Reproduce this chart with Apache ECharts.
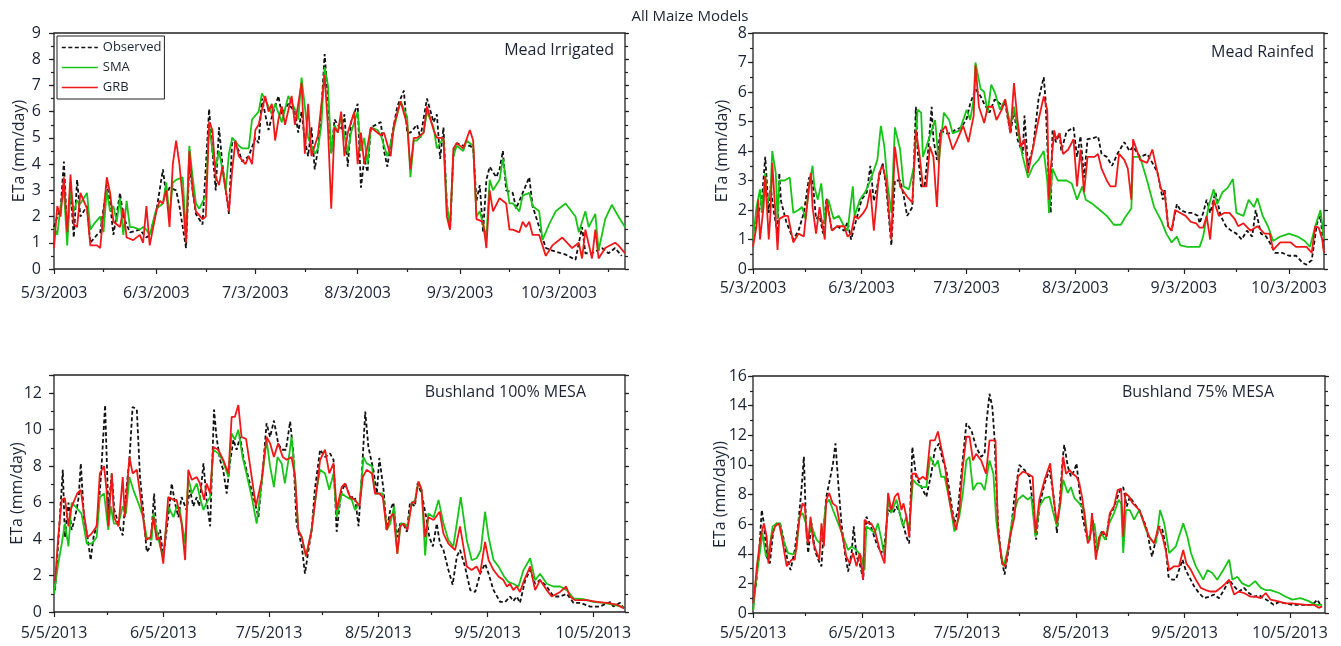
<!DOCTYPE html>
<html>
<head>
<meta charset="utf-8">
<script src="https://cdn.jsdelivr.net/npm/echarts@6/dist/echarts.min.js"></script>
<style>
  html, body { margin: 0; padding: 0; background: #ffffff; }
  #chart { width: 1341px; height: 646px; }
</style>
</head>
<body>
<div id="chart"></div>
<script>
// ---- Tick labels (first label is day 0 of each season) ----
const ticks2003 = ['5/3/2003', '6/3/2003', '7/3/2003', '8/3/2003', '9/3/2003', '10/3/2003'];
const ticks2013 = ['5/5/2013', '6/5/2013', '7/5/2013', '8/5/2013', '9/5/2013', '10/5/2013'];
const seriesNames = ['Observed', 'SMA', 'GRB'];

// ---- Daily ETa (mm/day) as [days since season start, value] ----
// Mead Irrigated 2003
const meadIrrObserved = [[0,1.6],[1,2.0],[2,2.3],[3,4.1],[4,1.3],[5,3.0],[6,1.2],[7,3.4],[8,2.0],[10,2.4],[11,1.0],[13,1.3],[14,1.4],[16,3.2],[17,2.5],[18,1.3],[20,2.9],[21,2.0],[23,1.4],[26,1.5],[28,1.2],[29,1.3],[31,2.2],[33,3.8],[34,2.8],[35,3.1],[37,3.0],[38,2.4],[40,0.8],[41,4.0],[42,3.0],[43,2.1],[45,1.7],[47,6.1],[48,4.5],[49,3.0],[50,5.4],[51,4.0],[53,2.1],[54,5.0],[56,4.5],[57,4.1],[59,4.3],[61,5.0],[62,4.8],[63,6.5],[65,5.3],[66,5.8],[68,6.6],[69,5.9],[71,6.3],[73,6.0],[74,5.2],[75,6.0],[76,4.9],[77,4.3],[78,5.4],[79,3.8],[80,4.6],[81,6.0],[82,8.2],[83,6.5],[84,4.4],[85,5.7],[87,5.3],[88,5.9],[89,3.9],[90,5.6],[92,6.3],[93,3.1],[94,4.2],[95,3.7],[96,5.4],[99,5.6],[100,4.5],[101,3.9],[102,4.8],[104,6.2],[106,6.8],[107,5.2],[108,5.2],[110,5.5],[111,5.0],[113,6.5],[115,5.6],[116,5.9],[117,4.2],[118,5.4],[119,2.5],[120,1.5],[121,4.3],[122,4.8],[124,4.7],[126,4.7],[127,4.6],[128,2.6],[129,3.2],[130,1.4],[131,3.4],[132,3.9],[134,3.5],[135,3.8],[136,4.5],[137,3.0],[139,2.9],[140,2.3],[142,2.9],[144,3.5],[145,2.4],[147,1.6],[149,0.8],[151,0.7],[155,0.55],[158,0.35],[160,1.6],[161,0.6],[163,0.6],[166,0.8],[168,0.6],[170,0.8],[172,0.5]];
const meadIrrSMA = [[0,1.6],[1,1.3],[2,2.4],[3,3.0],[4,0.9],[5,3.1],[6,2.2],[7,2.6],[8,2.5],[10,2.9],[11,1.5],[12,1.7],[14,2.0],[15,1.4],[16,3.0],[17,2.2],[18,2.4],[19,1.8],[20,2.7],[21,1.3],[22,2.6],[23,1.6],[24,1.6],[26,1.5],[27,1.6],[28,1.5],[29,1.3],[31,2.3],[33,2.5],[34,3.3],[35,2.0],[36,3.3],[37,3.4],[39,3.5],[40,1.3],[41,4.7],[42,3.5],[43,2.5],[44,2.3],[46,2.8],[47,5.5],[48,4.5],[49,3.9],[50,4.5],[51,3.8],[52,3.0],[53,4.4],[54,5.0],[56,4.7],[57,4.6],[59,4.6],[60,5.7],[62,6.0],[63,6.7],[65,6.2],[66,5.9],[67,6.3],[69,5.6],[71,6.6],[73,6.1],[74,5.7],[75,7.3],[76,6.2],[77,5.0],[79,4.4],[80,4.6],[81,5.5],[82,7.7],[83,7.0],[84,4.4],[85,5.5],[86,5.2],[87,5.8],[89,4.4],[90,5.2],[92,6.0],[93,4.5],[94,5.0],[95,4.0],[96,5.4],[98,5.3],[99,5.1],[101,4.3],[102,4.8],[104,5.9],[105,6.4],[107,5.8],[108,3.5],[109,4.9],[110,4.9],[112,5.2],[113,6.0],[115,5.4],[116,4.6],[118,5.0],[119,2.5],[120,1.6],[121,4.3],[122,4.7],[124,4.5],[125,4.9],[127,4.7],[128,2.0],[129,2.2],[131,1.2],[132,3.4],[133,3.0],[135,3.4],[136,4.2],[138,2.5],[139,2.5],[141,2.2],[142,2.8],[144,2.9],[145,2.4],[147,2.2],[148,1.1],[150,1.7],[152,2.2],[155,2.5],[158,2.0],[159,1.4],[161,2.2],[162,1.6],[164,2.1],[165,0.7],[167,1.9],[169,2.45],[171,2.0],[173,1.6]];
const meadIrrGRB = [[0,0.8],[1,2.4],[2,2.0],[3,3.5],[4,1.4],[5,3.6],[6,1.7],[7,1.6],[8,2.9],[10,2.3],[11,0.9],[13,0.9],[14,0.8],[16,3.5],[17,2.9],[18,1.8],[20,1.6],[21,2.3],[22,1.2],[24,1.1],[26,1.3],[27,1.0],[28,2.4],[29,0.9],[31,2.2],[32,2.6],[33,2.5],[34,3.0],[35,1.6],[36,4.0],[37,4.9],[38,4.0],[39,2.7],[40,1.0],[41,4.5],[42,3.0],[43,2.2],[45,1.9],[46,2.0],[47,5.6],[48,5.3],[49,3.5],[50,3.2],[51,3.9],[53,2.2],[54,3.8],[55,4.9],[56,4.3],[58,4.0],[59,4.3],[60,4.0],[61,5.3],[62,5.5],[64,6.6],[65,6.0],[66,6.3],[67,4.9],[68,5.7],[69,6.2],[70,5.5],[72,6.6],[73,5.5],[75,7.1],[76,4.4],[77,6.3],[78,4.3],[80,5.1],[82,7.4],[83,5.4],[84,2.3],[85,5.4],[86,5.2],[87,6.0],[88,4.3],[89,5.2],[91,6.0],[92,4.0],[93,5.2],[94,4.0],[96,5.4],[97,5.3],[99,5.1],[100,5.2],[102,4.3],[103,5.5],[105,6.4],[107,5.5],[108,3.8],[109,5.0],[110,5.0],[112,5.2],[113,6.2],[115,5.3],[116,5.0],[118,5.0],[119,2.0],[120,1.5],[121,4.6],[122,4.8],[124,4.6],[126,5.3],[127,4.9],[128,1.9],[130,1.8],[131,0.8],[132,3.0],[133,2.2],[135,2.7],[137,2.5],[138,1.5],[139,1.5],[141,1.4],[142,1.8],[143,1.6],[144,1.8],[145,1.3],[147,1.3],[149,0.5],[151,0.9],[154,1.2],[157,0.8],[159,1.0],[160,0.4],[161,1.5],[163,0.4],[164,1.5],[165,0.4],[167,0.8],[170,1.0],[171,0.9],[173,0.6]];

// Mead Rainfed 2003
const meadRainObserved = [[0.5,1.3],[1.5,1.9],[2.5,2.3],[3.5,3.8],[4.5,1.9],[5,2.8],[6,1.9],[7,1.2],[7.5,3.25],[8,2.3],[9.5,1.6],[11.5,1.0],[13,1.3],[14.5,1.9],[16,3.1],[17,3.0],[18,1.7],[19,1.8],[20,1.2],[21,2.4],[22.5,1.3],[24,1.45],[26,1.3],[27,1.6],[28,1.0],[29,1.45],[30,1.9],[31,2.35],[32.5,2.6],[33.5,3.5],[34.5,2.3],[36,3.1],[37,3.6],[38,2.8],[39.5,0.8],[40.5,3.0],[42,3.0],[43,2.5],[44,1.8],[45.5,2.1],[46.5,5.5],[47,4.0],[48,2.8],[49,2.8],[50,4.0],[51,5.5],[51.5,4.4],[52.5,3.7],[53.5,4.7],[55,4.6],[56.5,4.6],[57.5,4.7],[59.5,4.8],[61,5.1],[62,5.6],[63.5,6.1],[65,5.85],[66,5.6],[67.5,5.3],[69,5.75],[70.5,5.6],[72,5.6],[73.5,4.6],[74.5,5.4],[75.5,4.4],[77,3.9],[77.5,5.2],[78.5,3.5],[80,4.15],[81.5,5.75],[83,6.5],[83.5,5.75],[84.5,2.8],[85,1.9],[85.5,4.7],[86.5,4.3],[87.5,4.6],[88,4.0],[89.5,4.65],[91.5,4.8],[92.5,3.8],[93.5,4.5],[94.5,3.1],[95.5,4.4],[97.5,4.45],[98.5,4.5],[99.5,3.9],[101,3.8],[102.5,3.5],[104,3.9],[106,4.3],[107.5,4.0],[108.5,4.15],[110.5,3.8],[112.5,3.9],[114.5,3.5],[115.5,3.25],[117,2.35],[117.5,2.7],[118.5,1.45],[119.5,1.3],[121,2.2],[122,2.0],[124,1.9],[125.5,1.9],[127,1.8],[127.5,1.55],[128.5,1.9],[129.5,2.35],[130.5,1.9],[132,2.6],[133.5,1.8],[135,1.45],[136.5,1.3],[138,1.2],[139.5,1.0],[141,1.3],[142.5,1.1],[143.5,2.0],[145,1.2],[146.5,1.1],[147.5,0.9],[149,0.55],[151,0.55],[153,0.45],[155,0.45],[157,0.2],[158,0.15],[159.5,0.3],[161,1.55],[162,1.8],[163,0.55]];
const meadRainSMA = [[0,1.0],[1,2.1],[2,2.7],[2.5,1.9],[3.5,3.25],[4,2.2],[5,2.6],[5.5,4.0],[6.5,3.25],[7,1.7],[7.5,3.0],[9,3.0],[10.5,3.1],[11.5,1.9],[13,2.0],[14,2.1],[15,1.7],[16,2.8],[17,3.5],[17.5,2.8],[18.5,2.35],[19.5,2.9],[20.5,1.55],[21.5,2.35],[23,1.7],[24.5,1.8],[26,1.45],[27,1.3],[28.5,2.8],[29,1.8],[30.5,2.35],[32,2.6],[33.5,3.0],[35.5,3.7],[36.5,4.85],[37.5,4.15],[38.5,2.8],[39.5,1.9],[40.5,4.8],[42,4.05],[43,2.8],[44.5,2.7],[46,3.5],[47,5.4],[48,5.3],[48.5,3.8],[49.5,4.15],[51,4.7],[52,5.05],[53,3.6],[54.5,5.3],[56,5.05],[57,4.6],[59,4.7],[61,5.4],[62,5.05],[63,5.75],[63.5,7.0],[65,6.1],[66,6.0],[67,5.3],[68,6.25],[69,6.0],[70.5,5.4],[72,5.75],[73.5,4.85],[74.5,5.5],[76,4.4],[77,3.8],[77.5,3.8],[78.5,3.1],[80,3.5],[81.5,3.7],[83,4.0],[84,3.0],[84.5,1.9],[85.5,3.4],[87,3.0],[88,3.0],[89.5,3.0],[91,2.9],[92.5,2.35],[94,2.8],[95,2.35],[97,2.2],[98.5,2.05],[101,1.8],[103,1.5],[105,1.5],[106.5,1.8],[108,2.05],[108.5,3.8],[110.5,3.8],[112.5,3.0],[114.5,2.1],[116.5,1.65],[118,1.2],[119.5,0.9],[121,1.1],[122,0.8],[124,0.75],[125.5,0.75],[127.5,0.75],[128.5,1.1],[130,2.1],[131.5,2.7],[132.5,2.2],[134,2.6],[135.5,2.75],[137,3.05],[138,1.9],[140,1.8],[141.5,2.35],[143,2.1],[144,2.4],[145.5,1.8],[147,1.45],[148.5,0.95],[150.5,1.1],[153,1.2],[155.5,1.1],[157.5,0.95],[159,0.75],[160.5,1.45],[162,2.0],[162.5,2.0],[163,1.0]];
const meadRainGRB = [[0,0.75],[1,1.45],[1.5,2.35],[2,1.0],[3,2.1],[3.5,3.15],[4.5,1.0],[5,1.9],[5.5,3.6],[6.5,1.7],[7,0.65],[7.5,1.7],[9,1.8],[10,1.8],[11.5,0.9],[13,1.2],[14.5,1.1],[16,2.8],[16.5,3.25],[17,2.1],[18,1.2],[19,2.1],[20.5,1.0],[21,2.35],[22.5,1.3],[24,1.45],[26,1.45],[27,1.1],[28,1.2],[29,1.8],[30,1.7],[31.5,1.9],[32.5,2.1],[33.5,2.7],[34.5,1.3],[36,3.25],[37,3.5],[38,3.0],[39.5,1.0],[40.5,4.15],[42,2.8],[44,2.45],[45.5,2.25],[46.5,4.7],[47.5,3.9],[48.5,2.8],[49.5,2.8],[50.5,4.15],[51.5,3.8],[52.5,2.1],[53.5,4.6],[55,4.85],[57,4.05],[58,4.3],[60,4.85],[61.5,4.3],[63,5.2],[63.5,6.9],[64.5,5.5],[66,4.95],[67,5.5],[68.5,5.5],[69.5,5.05],[71,5.4],[72,5.75],[73.5,4.6],[74.5,6.3],[75.5,5.05],[76.5,4.15],[77.5,4.4],[78.5,3.25],[80,4.15],[81.5,5.05],[83,5.85],[84,5.4],[84.5,2.35],[85,3.4],[86,4.7],[86.5,4.4],[87.5,4.6],[88.5,3.9],[90,4.05],[91.5,4.4],[92.5,2.8],[93.5,4.05],[94.5,2.6],[95.5,3.8],[97.5,3.8],[98.5,3.9],[99.5,3.4],[101,3.0],[102,2.8],[103.5,2.8],[104.5,3.9],[106,3.7],[107,3.4],[108,2.35],[108.5,4.4],[110.5,3.7],[112.5,3.6],[114,4.05],[115.5,3.25],[116.5,2.7],[117.5,2.6],[118.5,1.45],[119.5,1.3],[120.5,2.0],[122,1.9],[123.5,1.8],[125,1.6],[126.5,1.55],[127.5,1.4],[128.5,1.4],[129.5,1.8],[130.5,1.0],[131.5,2.35],[133,1.8],[134.5,1.9],[136,1.9],[137.5,1.7],[138.5,1.45],[140,1.55],[142,1.3],[144,1.45],[146,1.2],[147.5,1.2],[148.5,0.65],[150.5,0.9],[153.5,0.9],[155,0.75],[156.5,0.75],[158,0.75],[159.5,0.55],[160.5,1.45],[161.5,1.4],[162.5,1.0],[163,0.55]];

// Bushland 100% MESA 2013
const bush100Observed = [[0.3,1.2],[1.2,3.8],[2.5,7.8],[3.1,4.1],[4.1,6.0],[5,4.5],[5.7,5.0],[6.4,5.6],[7,6.3],[7.6,8.15],[8.5,5.2],[9.5,4.1],[10.4,2.85],[11.2,4.1],[12.3,4.85],[13.3,7.4],[14.5,11.35],[15.4,5.6],[16.4,7.6],[17.1,5.6],[18.3,4.85],[19.5,4.2],[20.4,6.5],[21.4,8.35],[22.3,11.25],[23.5,11.1],[24.4,7.4],[25.3,5.6],[26.3,3.3],[27.4,3.6],[28.4,6.5],[29.1,4.1],[30.1,4.5],[31,3.0],[32.4,5.2],[33.4,7.05],[34.3,6.0],[35.3,5.2],[36.2,6.3],[37.6,5.6],[38.6,6.7],[39.5,5.8],[40.5,6.3],[41.2,5.8],[42.4,8.15],[43.3,6.15],[44.3,4.7],[45.4,11.1],[46.1,9.6],[47.1,8.35],[48,7.8],[49,6.5],[49.9,8.15],[50.9,9.45],[51.8,8.9],[52.8,9.6],[53.7,8.5],[55.1,7.4],[56.6,6.3],[58,5.2],[59.4,8.15],[60.3,10.35],[61.3,9.6],[62.4,10.5],[63.6,9.25],[64.6,8.9],[65.8,8.9],[67,10.45],[67.9,8.7],[68.8,4.85],[70.3,3.6],[71.2,2.1],[72.2,3.4],[73.1,4.5],[74,6.7],[75.5,8.9],[76.9,8.5],[78.3,8.7],[79.3,8.35],[80.2,4.4],[81.4,6.5],[82.6,7.05],[84,6.3],[85.4,6.3],[86.4,4.7],[87.3,7.4],[88.3,11.0],[89.2,9.05],[90.6,7.8],[91.6,6.5],[92.3,8.45],[93.5,6.7],[94.4,4.5],[95.4,5.6],[96.3,6.0],[97.3,4.1],[98.2,4.85],[99.1,4.85],[100.1,4.4],[101,6.0],[102.4,5.8],[103.1,7.05],[104.3,6.5],[105.6,5.2],[106.5,4.1],[107.5,3.6],[108.6,4.85],[109.5,3.75],[110.5,3.4],[111.9,2.3],[113.1,1.5],[114.3,3.05],[115.2,3.4],[116.6,2.5],[118.1,1.2],[119.5,1.1],[120.9,2.1],[122.3,2.65],[123.3,2.1],[124.7,1.2],[126.6,0.55],[128,0.55],[129.4,0.85],[130.3,0.6],[131.3,0.85],[132.2,0.5],[133.7,1.75],[135.1,2.3],[136.5,1.55],[137.9,1.75],[139.8,1.4],[141.7,0.85],[143.6,0.85],[145.5,1.0],[147.4,0.5],[149.3,0.5],[152.1,0.3],[154.9,0.3],[157.8,0.55],[158.7,0.3],[160.6,0.5],[161.7,0.2]];
const bush100SMA = [[0,1.0],[1.2,2.65],[2.2,3.75],[3.1,4.85],[4.1,3.6],[5,6.0],[6,5.8],[6.9,5.6],[7.8,5.4],[9.3,3.75],[10.7,3.75],[12.1,4.1],[13,6.3],[14.2,6.5],[15.4,4.5],[16.1,5.8],[17,4.85],[18.3,4.85],[19.5,5.8],[20.4,5.4],[21.4,7.4],[22.5,6.7],[23.9,6.0],[25.3,5.2],[26.3,4.1],[27.7,3.95],[28.2,5.4],[29.1,4.5],[30.1,3.6],[31,3.05],[32.4,5.8],[33.9,5.2],[34.8,5.8],[35.7,5.6],[37.2,3.75],[38.1,7.4],[39.1,6.5],[40.5,7.05],[41.4,6.3],[42.4,5.6],[43.3,6.0],[44.3,6.3],[45.2,8.9],[46.6,8.7],[47.8,8.35],[49.5,7.4],[50.4,9.8],[51.3,9.45],[52.3,10.0],[53.5,8.5],[54.6,7.6],[56.1,6.3],[57.5,4.85],[58.9,7.05],[60.3,9.45],[61.3,8.0],[62.4,6.85],[63.4,8.5],[64.6,8.15],[65.5,7.05],[66.8,8.7],[67.4,9.6],[68.4,7.4],[69.3,4.5],[70.3,4.1],[71.5,3.05],[73.1,4.5],[74.5,6.7],[75.5,7.8],[76.9,7.6],[78.1,6.7],[79.3,7.6],[80.2,5.2],[81.6,6.5],[83.1,6.3],[84.5,6.15],[85.4,5.6],[86.7,6.0],[87.8,8.5],[88.7,8.15],[90.2,8.0],[91.1,6.5],[92.3,6.5],[93.3,6.5],[94.4,4.5],[95.4,4.85],[96.5,5.8],[97.4,3.2],[98.4,4.85],[99.3,4.85],[100.3,4.7],[101.5,6.0],[102.4,6.1],[103.4,7.15],[104.3,6.7],[105.3,3.1],[106.2,5.4],[107.7,5.2],[109.1,6.15],[110.5,4.85],[111.9,3.95],[113.3,3.6],[115.4,6.3],[117.1,3.95],[118.5,2.85],[119.9,2.95],[121.1,3.4],[122.3,5.5],[123.3,4.1],[124.7,2.85],[126.1,2.5],[127.7,1.95],[128.9,1.65],[130.3,1.55],[131.8,1.4],[133.2,2.3],[135.1,2.95],[136.5,1.75],[137.9,2.1],[139.8,1.55],[141.7,1.4],[143.6,1.4],[145.5,1.2],[147.4,0.75],[150.2,0.7],[153,0.55],[155.9,0.5],[158.7,0.4],[161.7,0.25]];
const bush100GRB = [[0.3,1.7],[1.2,4.1],[2.2,6.15],[3.1,6.25],[4.1,4.7],[4.7,5.6],[5.5,6.0],[6.6,6.5],[7.6,6.7],[8.5,5.4],[9.5,4.1],[10.7,4.3],[12.1,4.7],[13,7.6],[14.2,8.0],[14.9,6.7],[15.4,4.7],[16.4,7.6],[17,5.2],[18.3,4.7],[19.5,7.4],[20.1,5.2],[21.4,8.5],[22.3,7.6],[23.5,7.8],[24.4,6.5],[26.1,3.95],[27.4,4.1],[28.2,5.2],[29.1,3.95],[29.9,4.1],[31,2.65],[32.4,6.3],[33.9,6.15],[34.8,6.15],[36.2,4.85],[37.2,2.85],[38.1,7.8],[39.1,7.25],[40.5,7.4],[41.4,7.05],[42.6,6.15],[43.3,7.05],[44.3,6.5],[45.2,9.05],[46.6,8.9],[48,8.35],[49.5,7.6],[50.4,10.7],[51.3,10.7],[52.3,11.35],[53.2,9.6],[54.5,9.5],[55.8,7.8],[57.3,5.8],[58.9,7.25],[60.3,9.6],[61.3,9.25],[62.4,8.5],[63.6,9.25],[64.9,8.5],[66,8.35],[67.4,8.5],[68.4,7.4],[69.3,4.5],[70.3,4.1],[71.5,3.05],[73.1,4.5],[74.5,6.7],[75.5,8.35],[76.9,8.9],[78.1,7.6],[79.3,8.15],[80.2,5.6],[81.6,6.85],[82.6,7.05],[84,6.3],[85.4,6.15],[86.7,5.8],[87.6,7.4],[88.7,7.8],[90.2,7.6],[91.1,6.5],[92.3,6.5],[93.3,6.3],[94.4,4.5],[95.4,5.2],[96.3,5.4],[97.4,3.2],[98.2,4.7],[99.1,4.85],[100.3,4.5],[101.5,6.0],[102.4,6.0],[103.4,7.15],[104.3,6.7],[105.3,4.1],[106.2,5.2],[107.7,5.05],[109.4,5.5],[110.5,4.3],[111.9,3.75],[113.8,3.4],[115.2,4.7],[117.1,2.5],[118.5,2.3],[119.9,2.5],[120.9,2.1],[122.3,3.85],[123.3,2.85],[124.7,2.3],[126.1,1.95],[127.5,1.75],[128.5,1.4],[129.4,1.55],[130.3,1.2],[131.3,1.4],[132.2,1.1],[133.4,1.75],[135.1,2.5],[136.5,1.2],[137.9,1.75],[139.8,1.2],[141.2,0.85],[143.6,1.1],[145.3,1.4],[146.4,0.85],[147.8,0.65],[151.2,0.65],[154,0.55],[156.8,0.5],[159.7,0.4],[161.7,0.2]];

// Bushland 75% MESA 2013
const bush75Observed = [[0.1,0.9],[0.9,2.0],[1.8,4.3],[2.5,6.95],[3.1,6.05],[3.9,3.8],[4.8,3.35],[5.8,5.6],[6.7,6.05],[7.7,6.05],[8.6,5.15],[9.8,3.6],[10.7,2.9],[11.9,4.25],[12.9,6.05],[13.8,8.3],[14.5,10.55],[15.1,6.05],[15.7,4.05],[16.7,6.05],[17.6,4.25],[18.6,3.6],[19.5,3.15],[20.2,5.85],[20.9,7.85],[21.9,9.0],[22.8,10.1],[23.5,11.45],[24.3,8.75],[25.2,6.05],[26.2,4.05],[27.1,2.8],[28.1,4.05],[28.7,5.85],[29.5,3.8],[30.4,3.35],[31.4,2.25],[32.3,6.5],[33.3,6.05],[34.2,5.4],[35.2,4.7],[36.6,4.05],[37.5,4.7],[38.5,6.95],[39.9,6.75],[40.9,7.2],[41.8,6.75],[42.7,6.05],[43.7,5.15],[44.5,4.7],[45.4,11.2],[46.5,9.2],[47.5,8.75],[48.4,8.3],[49.4,7.85],[50.8,9.4],[51.8,11.0],[53,11.45],[54.1,10.3],[55.1,9.65],[56.5,7.4],[57.4,6.05],[58.4,6.95],[59.3,9.2],[60.8,12.8],[62.2,12.35],[63.6,11.2],[65,10.55],[66,10.75],[66.6,13.0],[67.4,14.8],[68.2,13.9],[68.8,11.9],[69.8,6.05],[70.7,3.8],[71.7,2.6],[73.1,4.7],[74.5,7.85],[75.9,10.0],[77.4,9.65],[78.8,9.2],[79.7,7.4],[80.7,4.95],[81.6,7.2],[83.1,8.75],[84.5,9.65],[85.7,7.85],[86.6,5.4],[87.3,7.2],[88.3,10.55],[88.7,11.35],[89.7,9.9],[90.6,9.2],[91.6,9.65],[92.2,10.1],[93,8.3],[93.9,6.5],[95.1,5.15],[95.8,4.95],[96.8,6.3],[97.7,4.05],[98.7,5.15],[99.6,5.6],[100.6,4.95],[101.5,6.5],[102.5,6.95],[103.6,7.65],[104.6,8.3],[105.5,8.5],[106.5,7.2],[107.4,7.85],[108.6,7.4],[110.1,6.95],[112,5.85],[113.7,3.8],[114.8,4.95],[115.8,5.85],[116.7,5.6],[117.6,4.5],[118.4,2.45],[119.5,2.25],[120.5,2.25],[121.4,2.9],[122.4,3.6],[123.3,2.9],[124.3,2.45],[125.7,1.8],[127.1,1.35],[128.5,1.0],[130,1.1],[131.4,1.25],[132.8,1.0],[134.2,1.55],[135.7,2.25],[137.1,1.8],[138.5,1.45],[139.9,1.7],[141.3,1.35],[142.8,1.1],[144.2,1.2],[145.6,1.0],[147,0.8],[148.4,0.55],[149.9,0.75],[151.8,0.65],[153.7,0.55],[155.6,0.55],[157.5,0.55],[159.4,0.55],[160.8,0.9],[161.7,0.55]];
const bush75SMA = [[0.1,0.2],[0.9,2.25],[1.8,3.8],[2.7,5.4],[3.7,3.8],[4.6,4.25],[5.6,5.85],[6.7,6.05],[7.7,6.05],[8.6,4.95],[10,4.05],[11.5,3.95],[12.4,4.25],[13.2,6.5],[14.1,6.75],[15.1,6.05],[15.7,5.15],[16.7,5.85],[18.1,4.95],[19.1,4.7],[19.8,5.15],[20.8,7.4],[21.7,7.65],[22.8,6.95],[24.3,6.05],[25.7,5.15],[27.1,4.25],[28.1,4.5],[29.5,4.25],[30.9,3.8],[31.8,2.9],[32.3,5.85],[33.7,5.6],[34.7,5.4],[35.6,6.05],[36.6,4.95],[37.5,3.8],[38.5,7.65],[39.4,6.75],[40.9,7.65],[41.8,6.75],[42.7,5.85],[43.7,6.5],[44.5,5.6],[45.6,9.0],[46.5,8.75],[48,8.5],[49.4,8.5],[50.5,10.55],[51.8,9.9],[52.7,10.3],[53.6,9.2],[54.6,9.2],[55.8,7.85],[57.4,5.5],[58.8,6.5],[59.8,8.1],[60.8,10.3],[61.7,10.55],[62.7,8.3],[63.8,8.75],[65,8.75],[66,8.3],[67.4,10.3],[68.5,9.4],[69.3,6.3],[70,4.95],[71.4,3.15],[72.6,4.25],[74,6.5],[75.5,7.65],[76.9,7.95],[78.3,7.65],[79.3,7.85],[80.5,5.15],[81.6,7.2],[83.1,7.75],[84.5,7.85],[85.6,6.75],[86.6,5.85],[87.5,7.2],[88.4,9.0],[89.7,8.1],[90.6,8.5],[91.6,7.75],[93,7.4],[94.4,6.95],[95.4,4.95],[96.3,5.4],[97.3,6.05],[98.2,4.25],[99.2,5.4],[100.4,4.95],[101.5,6.05],[102.9,6.75],[104.2,7.65],[104.9,7.4],[105.5,4.05],[106.3,6.95],[107.4,6.95],[108.6,6.3],[110.1,6.95],[112,5.6],[113.4,4.95],[114.8,4.7],[116,6.95],[117.2,6.05],[118.6,4.05],[120.5,4.5],[122.6,6.05],[123.8,5.15],[124.8,4.05],[126.2,3.15],[128.3,2.25],[129.5,2.9],[130.9,2.7],[132.3,2.25],[134,2.9],[135.7,3.6],[136.6,2.25],[138,2.45],[139.4,2.0],[141.3,1.8],[143.1,2.15],[144.7,1.7],[146.1,1.55],[147.5,1.55],[149.9,1.35],[151.8,1.1],[153.7,0.9],[156,1.0],[158.4,0.8],[160.3,0.55],[162.2,0.55]];
const bush75GRB = [[0.1,0.65],[1.2,3.35],[2.2,5.15],[3.1,6.05],[3.9,5.15],[4.4,3.35],[5.3,5.15],[6.3,5.85],[7.4,6.05],[8.2,5.15],[9.6,3.15],[11,3.6],[11.9,3.6],[13.2,6.3],[14.1,7.4],[14.8,7.2],[15.3,5.15],[15.7,4.7],[16.4,6.5],[17.2,4.7],[17.9,4.25],[18.9,3.6],[19.5,6.05],[20.2,4.5],[20.9,7.65],[21.7,8.1],[22.7,7.4],[23.8,7.2],[24.7,6.05],[25.7,4.95],[26.6,3.8],[27.6,3.35],[28.5,4.05],[29.5,3.15],[30.4,4.05],[31.4,2.25],[31.8,6.3],[32.8,6.05],[33.7,6.05],[34.7,5.6],[36.1,4.25],[37.5,3.35],[38.5,8.1],[39.4,6.95],[40.4,7.85],[41.3,8.1],[42.3,6.95],[42.9,7.4],[43.7,6.5],[44.5,5.15],[45.4,9.4],[46.4,9.4],[47.3,9.0],[48.4,9.2],[49.4,9.0],[50.5,11.65],[51.8,11.65],[52.7,12.25],[53.6,11.2],[54.6,10.1],[55.8,7.85],[57.1,6.3],[57.9,5.6],[58.8,6.95],[59.8,9.9],[60.8,11.9],[61.7,11.9],[62.7,10.3],[63.6,10.75],[65,10.3],[66.4,9.4],[67.4,11.65],[68.3,11.65],[69.1,11.65],[69.8,5.6],[71,3.35],[71.9,3.15],[73.1,4.95],[74.5,6.5],[75.5,9.2],[76.9,9.55],[78.3,9.4],[79.7,9.2],[80.5,5.4],[81.6,7.65],[83.1,9.0],[84.7,10.1],[85.6,7.85],[86.6,6.05],[87.5,7.4],[88.4,10.55],[89.2,9.4],[90.2,9.65],[91.1,9.4],[92.2,9.2],[93,8.75],[93.9,7.65],[95.4,4.7],[96,4.95],[96.6,6.75],[97.7,3.6],[98.7,5.15],[99.8,5.5],[100.8,5.15],[101.7,6.75],[102.9,7.2],[103.9,8.3],[104.9,8.4],[105.5,5.15],[106.1,8.1],[107.2,7.85],[108.2,7.4],[109.1,7.2],[110.1,6.95],[111.5,6.05],[112.9,5.15],[114.3,4.7],[115.6,5.85],[116.7,5.15],[117.6,4.25],[118.6,2.9],[120,3.15],[121.4,3.15],[122.6,4.25],[123.5,3.35],[124.8,2.9],[126.2,2.25],[127.6,1.7],[129,1.55],[130.4,1.45],[131.9,1.45],[133.3,1.7],[134.7,2.0],[135.7,2.25],[137.1,1.25],[138.5,1.45],[139.9,1.35],[141.8,1.1],[143.2,1.1],[144.7,1.0],[146.1,1.35],[147.5,0.9],[149.4,0.8],[151.8,0.65],[153.7,0.65],[155.6,0.6],[157.5,0.55],[159.8,0.55],[161.2,0.35],[162.2,0.45]];

// ---- helpers ----
function parseMDY(s) {
  const p = s.split('/').map(Number);
  return Date.UTC(p[2], p[0] - 1, p[1]);
}
function dayOffsets(labels) {
  const t0 = parseMDY(labels[0]);
  return labels.map(l => Math.round((parseMDY(l) - t0) / 86400000));
}

const FONT = "'Open Sans', 'Noto Sans', sans-serif";
const INK = '#1b2333';
const AXIS = '#222222';
const COLORS = { Observed: '#111111', SMA: '#19c419', GRB: '#f01818' };

// layout for the four panels
const panels = [
  { grid: { left: 54,  top: 33,  width: 571, height: 236 }, days: 173, ymax: 9,  yStep: 1, yMinor: 0.5,
    ticks: ticks2003, data: [meadIrrObserved, meadIrrSMA, meadIrrGRB], yName: 'ETa (mm/day)',
    nameGap: 27, yLabelMargin: 13, xLabelMargin: 16, site: 'Mead Irrigated', siteX: 614, siteY: 50 },
  { grid: { left: 753, top: 33,  width: 571, height: 236 }, days: 163, ymax: 8,  yStep: 1, yMinor: 0.5,
    ticks: ticks2003, data: [meadRainObserved, meadRainSMA, meadRainGRB], yName: 'ETa (mm/day)',
    nameGap: 23, yLabelMargin: 6, xLabelMargin: 11, site: 'Mead Rainfed', siteX: 1314, siteY: 52 },
  { grid: { left: 54,  top: 375, width: 571, height: 237 }, days: 162, ymax: 13, yStep: 2, yMinor: 1,
    ticks: ticks2013, data: [bush100Observed, bush100SMA, bush100GRB], yName: 'ETa (mm/day)',
    nameGap: 29, yLabelMargin: 12, xLabelMargin: 13, site: 'Bushland 100% MESA', siteX: 586, siteY: 392 },
  { grid: { left: 753, top: 376, width: 572, height: 237 }, days: 163, ymax: 16, yStep: 2, yMinor: 1,
    ticks: ticks2013, data: [bush75Observed, bush75SMA, bush75GRB], yName: 'ETa (mm/day))',
    nameGap: 25, yLabelMargin: 6, xLabelMargin: 12, site: 'Bushland 75% MESA', siteX: 1274, siteY: 392 }
];

const grids = [], xAxes = [], yAxes = [], series = [], graphics = [];

panels.forEach((p, i) => {
  grids.push(Object.assign({ show: true, borderColor: AXIS, borderWidth: 1.3, backgroundColor: 'transparent' }, p.grid));

  const majors = dayOffsets(p.ticks);
  const minors = majors.map(d => d + 15).filter(d => d <= p.days);
  const labelAt = {};
  majors.forEach((d, k) => { labelAt[d] = p.ticks[k]; });

  const xMain = xAxes.length;
  xAxes.push({
    gridIndex: i, type: 'value', min: 0, max: p.days, position: 'bottom',
    axisLine: { show: false }, splitLine: { show: false },
    axisTick: { show: true, inside: false, length: 5, customValues: majors, lineStyle: { color: AXIS, width: 1.2 } },
    axisLabel: { show: true, customValues: majors, margin: p.xLabelMargin, fontSize: 16, fontFamily: FONT, color: INK,
      formatter: v => labelAt[Math.round(v)] || '' }
  });
  xAxes.push({
    gridIndex: i, type: 'value', min: 0, max: p.days, position: 'bottom',
    axisLine: { show: false }, splitLine: { show: false }, axisLabel: { show: false },
    axisTick: { show: true, length: 3, customValues: minors, lineStyle: { color: AXIS, width: 1.2 } }
  });

  const yMain = yAxes.length;
  const yBase = { gridIndex: i, type: 'value', min: 0, max: p.ymax, axisLine: { show: false }, splitLine: { show: false } };
  yAxes.push(Object.assign({}, yBase, {
    position: 'left', interval: p.yStep,
    axisTick: { show: true, length: 5, lineStyle: { color: AXIS, width: 1.2 } },
    axisLabel: { margin: p.yLabelMargin, fontSize: 16, fontFamily: FONT, color: INK,
      formatter: v => (Math.abs(v / p.yStep - Math.round(v / p.yStep)) < 1e-6 ? String(v) : '') },
    name: p.yName, nameLocation: 'middle', nameRotate: 90, nameGap: p.nameGap, nameMoveOverlap: false,
    nameTextStyle: { fontSize: 16, fontFamily: FONT, color: INK }
  }));
  yAxes.push(Object.assign({}, yBase, {
    position: 'left', interval: p.yMinor, axisLabel: { show: false },
    axisTick: { show: true, length: 3, lineStyle: { color: AXIS, width: 1.2 } }
  }));
  yAxes.push(Object.assign({}, yBase, {
    position: 'right', interval: p.yStep, axisLabel: { show: false },
    axisTick: { show: true, length: 4, lineStyle: { color: AXIS, width: 1.2 } }
  }));
  yAxes.push(Object.assign({}, yBase, {
    position: 'right', interval: p.yMinor, axisLabel: { show: false },
    axisTick: { show: true, length: 3, lineStyle: { color: AXIS, width: 1.2 } }
  }));

  seriesNames.forEach((name, k) => {
    series.push({
      name, type: 'line', xAxisIndex: xMain, yAxisIndex: yMain,
      data: p.data[k], symbol: 'none', smooth: false, clip: true,
      lineStyle: name === 'Observed'
        ? { color: COLORS[name], width: 1.8, type: [4, 2.5] }
        : { color: COLORS[name], width: 1.8 },
      itemStyle: { color: COLORS[name] },
      z: 2 + k
    });
  });

  graphics.push({
    type: 'text', x: p.siteX, y: p.siteY,
    style: { text: p.site, fill: INK, font: '16px ' + FONT, textAlign: 'right', textVerticalAlign: 'middle', textBaseline: 'middle' }
  });
});

graphics.push({
  type: 'text', x: 690, y: 17,
  style: { text: 'All Maize Models', fill: INK, font: '15px ' + FONT, textAlign: 'center', textVerticalAlign: 'middle', textBaseline: 'middle' }
});

const chart = echarts.init(document.getElementById('chart'), null, { renderer: 'canvas' });
chart.setOption({
  animation: false,
  backgroundColor: '#ffffff',
  grid: grids,
  xAxis: xAxes,
  yAxis: yAxes,
  legend: {
    data: seriesNames, orient: 'vertical', left: 57, top: 36,
    itemWidth: 36, itemHeight: 12, itemGap: 7,
    padding: [5, 3, 5, 4], borderColor: AXIS, borderWidth: 1,
    backgroundColor: '#ffffff',
    itemStyle: { opacity: 0 },
    lineStyle: { width: 1.6 },
    textStyle: { fontSize: 13, fontFamily: FONT, color: INK },
    selectedMode: false
  },
  graphic: graphics,
  series: series
});
</script>
</body>
</html>
